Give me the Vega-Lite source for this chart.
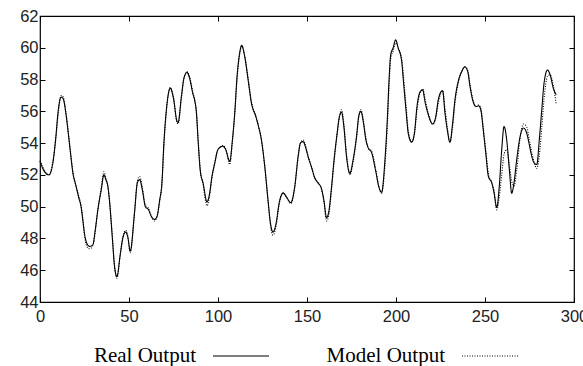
{
  "$schema": "https://vega.github.io/schema/vega-lite/v6.json",
  "width": 534,
  "height": 286,
  "autosize": "none",
  "padding": {"left": 40, "top": 16, "right": 9, "bottom": 64},
  "background": "white",
  "config": {
    "view": {"stroke": "black", "strokeWidth": 1.2},
    "axis": {
      "grid": false,
      "domain": false,
      "labelFont": "Liberation Sans",
      "labelFontSize": 16.5,
      "labelColor": "#222",
      "tickColor": "black",
      "tickSize": -5,
      "tickWidth": 1,
      "title": null
    }
  },
  "data": {
    "values": [
      {"t":0,"real":52.85,"model":52.9},{"t":2,"real":52.3,"model":52.4},{"t":5,"real":52.0,"model":52.0},{"t":7,"real":52.6,"model":52.7},{"t":9,"real":54.5,"model":54.4},{"t":10,"real":55.8,"model":55.6},{"t":11.9,"real":56.9,"model":57.0},{"t":13,"real":56.8,"model":56.9},{"t":14.5,"real":55.9,"model":56.0},{"t":16,"real":54.5,"model":54.6},{"t":17.5,"real":53.0,"model":53.1},{"t":18.5,"real":52.1,"model":52.2},{"t":20,"real":51.4,"model":51.4},{"t":21.7,"real":50.6,"model":50.7},{"t":23.2,"real":49.9,"model":50.0},{"t":24,"real":49.2,"model":49.3},{"t":25,"real":48.3,"model":48.2},{"t":26.3,"real":47.7,"model":47.5},{"t":27.8,"real":47.5,"model":47.35},{"t":29.7,"real":47.6,"model":47.55},{"t":31,"real":48.5,"model":48.4},{"t":32.5,"real":49.8,"model":49.8},{"t":34.4,"real":51.05,"model":51.2},{"t":35.9,"real":52.0,"model":52.2},{"t":37,"real":51.7,"model":51.8},{"t":38.1,"real":51.3,"model":51.3},{"t":39,"real":50.4,"model":50.5},{"t":40.6,"real":48.1,"model":48.2},{"t":41.9,"real":46.2,"model":46.3},{"t":43.2,"real":45.6,"model":45.5},{"t":45.1,"real":47.0,"model":47.0},{"t":46.5,"real":48.0,"model":48.1},{"t":48.1,"real":48.4,"model":48.5},{"t":49.3,"real":48.1,"model":48.2},{"t":50.7,"real":47.2,"model":47.1},{"t":53.1,"real":49.6,"model":49.7},{"t":54.7,"real":51.5,"model":51.6},{"t":56,"real":51.7,"model":51.9},{"t":57.5,"real":51.05,"model":51.2},{"t":59.2,"real":50.0,"model":50.1},{"t":61,"real":49.8,"model":49.9},{"t":62.5,"real":49.4,"model":49.4},{"t":64.4,"real":49.2,"model":49.1},{"t":65.8,"real":49.4,"model":49.4},{"t":67.2,"real":50.4,"model":50.3},{"t":68.5,"real":51.5,"model":51.4},{"t":69.6,"real":54.0,"model":53.8},{"t":71,"real":56.1,"model":56.0},{"t":73.2,"real":57.46,"model":57.5},{"t":75,"real":56.8,"model":56.9},{"t":76.9,"real":55.4,"model":55.3},{"t":77.6,"real":55.3,"model":55.2},{"t":79.4,"real":56.9,"model":56.8},{"t":80.9,"real":58.1,"model":58.1},{"t":82.6,"real":58.45,"model":58.5},{"t":84,"real":58.1,"model":58.2},{"t":85.9,"real":57.1,"model":57.2},{"t":86.9,"real":56.7,"model":56.7},{"t":87.9,"real":55.9,"model":55.9},{"t":88.8,"real":54.2,"model":54.3},{"t":90.1,"real":52.2,"model":52.3},{"t":91.6,"real":51.5,"model":51.4},{"t":93.8,"real":50.3,"model":50.05},{"t":95.3,"real":50.85,"model":50.7},{"t":96.6,"real":51.9,"model":51.8},{"t":98.1,"real":52.7,"model":52.7},{"t":100,"real":53.6,"model":53.6},{"t":102.8,"real":53.8,"model":53.85},{"t":104.3,"real":53.6,"model":53.65},{"t":106.6,"real":52.85,"model":52.65},{"t":108.1,"real":54.2,"model":54.1},{"t":109.4,"real":55.9,"model":55.8},{"t":110.7,"real":58.2,"model":58.0},{"t":112.2,"real":59.7,"model":59.6},{"t":113.3,"real":60.15,"model":60.1},{"t":115,"real":59.45,"model":59.5},{"t":116.9,"real":58.0,"model":58.1},{"t":118.8,"real":56.5,"model":56.6},{"t":121.2,"real":55.7,"model":55.7},{"t":122.5,"real":55.15,"model":55.2},{"t":124.4,"real":54.2,"model":54.2},{"t":126.3,"real":52.5,"model":52.5},{"t":128.1,"real":50.4,"model":50.4},{"t":129.5,"real":48.95,"model":48.8},{"t":130.9,"real":48.4,"model":48.2},{"t":132.8,"real":49.05,"model":48.9},{"t":134.3,"real":50.2,"model":50.1},{"t":136.6,"real":50.85,"model":50.9},{"t":138.5,"real":50.6,"model":50.6},{"t":140.9,"real":50.25,"model":50.2},{"t":143.1,"real":51.25,"model":51.2},{"t":145,"real":53.15,"model":53.1},{"t":146.3,"real":54.0,"model":54.0},{"t":147.8,"real":54.1,"model":54.2},{"t":149.3,"real":53.7,"model":53.8},{"t":150.6,"real":53.15,"model":53.2},{"t":152.5,"real":52.5,"model":52.5},{"t":154.4,"real":51.8,"model":51.8},{"t":156.2,"real":51.5,"model":51.5},{"t":158.1,"real":51.15,"model":51.1},{"t":159.5,"real":50.4,"model":50.3},{"t":161,"real":49.3,"model":49.1},{"t":162.4,"real":49.8,"model":49.6},{"t":163.8,"real":51.25,"model":51.1},{"t":165.2,"real":52.95,"model":52.8},{"t":166.9,"real":54.6,"model":54.5},{"t":168.1,"real":55.6,"model":55.6},{"t":169.4,"real":55.95,"model":56.1},{"t":170.7,"real":55.05,"model":55.2},{"t":172.2,"real":53.15,"model":53.3},{"t":174.1,"real":52.1,"model":52.0},{"t":175.9,"real":52.95,"model":52.8},{"t":177.8,"real":54.4,"model":54.3},{"t":179.1,"real":55.7,"model":55.7},{"t":180.3,"real":56.0,"model":56.1},{"t":181.6,"real":55.35,"model":55.5},{"t":183.1,"real":54.2,"model":54.3},{"t":184.4,"real":53.7,"model":53.7},{"t":186.3,"real":53.4,"model":53.5},{"t":188.5,"real":52.3,"model":52.4},{"t":190.5,"real":51.2,"model":51.2},{"t":191.9,"real":50.9,"model":50.85},{"t":193.8,"real":52.95,"model":52.6},{"t":195.1,"real":55.45,"model":55.0},{"t":196.2,"real":58.2,"model":57.8},{"t":197,"real":59.55,"model":59.3},{"t":198.4,"real":60.0,"model":59.8},{"t":199.8,"real":60.5,"model":60.3},{"t":201.2,"real":60.0,"model":60.0},{"t":203.2,"real":59.15,"model":59.3},{"t":204.1,"real":58.0,"model":58.3},{"t":205.6,"real":56.1,"model":56.4},{"t":206.9,"real":54.6,"model":54.8},{"t":208.8,"real":54.05,"model":54.1},{"t":210.3,"real":54.6,"model":54.5},{"t":211.9,"real":56.4,"model":56.2},{"t":213.4,"real":57.2,"model":57.1},{"t":215,"real":57.35,"model":57.4},{"t":216.3,"real":56.6,"model":56.8},{"t":218.1,"real":55.8,"model":55.9},{"t":220.6,"real":55.2,"model":55.2},{"t":222.4,"real":55.7,"model":55.6},{"t":223.7,"real":56.7,"model":56.5},{"t":225.1,"real":57.2,"model":57.1},{"t":226.2,"real":57.3,"model":57.3},{"t":227.5,"real":55.9,"model":56.2},{"t":228.8,"real":54.85,"model":55.0},{"t":230.3,"real":54.05,"model":54.1},{"t":231.8,"real":55.25,"model":55.0},{"t":233.1,"real":56.7,"model":56.5},{"t":235,"real":57.9,"model":57.8},{"t":236.9,"real":58.5,"model":58.5},{"t":238.7,"real":58.8,"model":58.8},{"t":240.3,"real":58.5,"model":58.6},{"t":241.6,"real":57.55,"model":57.7},{"t":243.1,"real":56.7,"model":56.8},{"t":244.9,"real":56.3,"model":56.3},{"t":246.5,"real":56.35,"model":56.4},{"t":247.8,"real":56.0,"model":56.1},{"t":249,"real":54.85,"model":55.0},{"t":250.4,"real":53.4,"model":53.6},{"t":251.9,"real":51.9,"model":52.1},{"t":253.8,"real":51.5,"model":51.5},{"t":255.1,"real":50.85,"model":51.0},{"t":256.6,"real":49.95,"model":49.8},{"t":258,"real":51.25,"model":50.6},{"t":259.4,"real":53.6,"model":52.0},{"t":260.7,"real":55.05,"model":53.3},{"t":262.2,"real":54.2,"model":53.6},{"t":263.7,"real":52.3,"model":52.6},{"t":265,"real":50.85,"model":51.6},{"t":266.3,"real":51.5,"model":51.3},{"t":267.8,"real":52.95,"model":52.3},{"t":269.7,"real":54.4,"model":54.3},{"t":271.6,"real":54.95,"model":55.2},{"t":273.5,"real":54.6,"model":55.0},{"t":274.9,"real":53.9,"model":54.2},{"t":276.3,"real":53.15,"model":53.4},{"t":277.6,"real":52.75,"model":52.8},{"t":279.1,"real":52.65,"model":52.4},{"t":280.5,"real":54.2,"model":53.2},{"t":281.9,"real":56.1,"model":55.0},{"t":283.2,"real":57.8,"model":56.8},{"t":285.1,"real":58.6,"model":58.2},{"t":286.6,"real":58.3,"model":58.3},{"t":288.4,"real":57.45,"model":57.6},{"t":290,"real":57.05,"model":56.45}
    ]
  },
  "transform": [{"fold": ["real", "model"], "as": ["series", "value"]}],
  "layer": [
    {
      "mark": {"type": "line", "color": "black", "strokeWidth": 1.1, "interpolate": "monotone"},
      "encoding": {
        "x": {"field": "t", "type": "quantitative", "scale": {"domain": [0, 300], "nice": false},
              "axis": {"orient": "bottom", "values": [0, 50, 100, 150, 200, 250, 300], "labelPadding": 11, "labelFlush": false}},
        "y": {"field": "value", "type": "quantitative", "scale": {"domain": [44, 62], "nice": false, "zero": false},
              "axis": {"orient": "left", "values": [44, 46, 48, 50, 52, 54, 56, 58, 60, 62], "labelPadding": 7, "labelFlush": false}},
        "strokeDash": {
          "field": "series", "type": "nominal",
          "scale": {"domain": ["real", "model"], "range": [[1, 0], [1, 1.5]]},
          "legend": {
            "orient": "none", "legendX": 172, "legendY": 311, "direction": "horizontal",
            "title": null, "symbolType": "stroke", "symbolSize": 3136, "symbolStrokeWidth": 1.2,
            "symbolStrokeColor": "black", "labelFont": "Liberation Serif", "labelFontSize": 21,
            "labelColor": "black", "labelAlign": "right", "labelOffset": -74, "columnPadding": 54,
            "labelExpr": "datum.label == 'real' ? 'Real Output' : 'Model Output'"
          }
        }
      }
    },
    {
      "mark": {"type": "line", "opacity": 0},
      "encoding": {
        "x": {"field": "t", "type": "quantitative",
              "axis": {"orient": "top", "values": [0, 50, 100, 150, 200, 250, 300], "labels": false}},
        "y": {"field": "value", "type": "quantitative",
              "axis": {"orient": "right", "values": [44, 46, 48, 50, 52, 54, 56, 58, 60, 62], "labels": false}},
        "detail": {"field": "series"}
      }
    }
  ],
  "resolve": {"axis": {"x": "independent", "y": "independent"}}
}
